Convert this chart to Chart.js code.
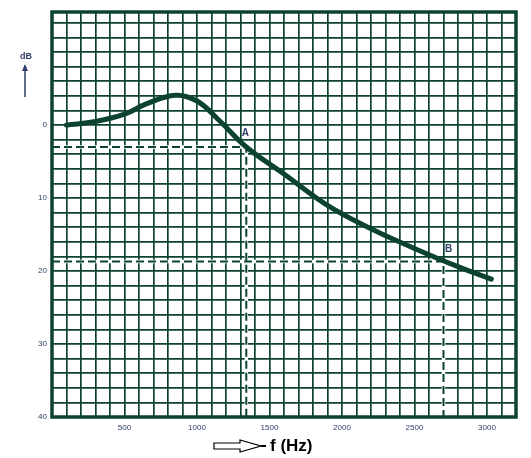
<!DOCTYPE html>
<html>
<head>
<meta charset="utf-8">
<title>dB vs f (Hz)</title>
<script src="https://cdn.jsdelivr.net/npm/chart.js@4.4.1/dist/chart.umd.min.js"></script>
<style>
  html, body { margin: 0; padding: 0; background: #fff; }
  canvas { display: block; }
</style>
</head>
<body>
<canvas id="responseChart" width="531" height="458"></canvas>
<script>
// frequency response (Hz, dB attenuation)
const freqHz = [100, 300, 500, 650, 850, 1000, 1150, 1340, 1600, 1900, 2200, 2500, 2800, 3030];
const levelDb = [0, -0.5, -1.5, -2.9, -4.1, -3.3, -0.7, 3.0, 6.7, 11.0, 14.2, 16.9, 19.4, 21.1];

// marked points A and B
const markNames = ["A", "B"];
const markFreq = [1340, 2700];
const markDb = [3, 18.7];

// axes
const xMin = 0, xMax = 3200;
const yMin = -15.5, yMax = 40;
const xGridStep = 100, yGridStep = 2;
const xTickLabels = [500, 1000, 1500, 2000, 2500, 3000];
const yTickLabels = [0, 10, 20, 30, 40];

const ink = "#0c4330";
const labelInk = "#2c3d66";

function gridValues(from, to, step) {
    const out = [];
    for (let v = from; v <= to + 1e-9; v += step) out.push({ value: v });
    return out;
}

const curve = freqHz.map((f, i) => ({ x: f, y: levelDb[i] }));

const markerSets = [];
markNames.forEach((name, i) => {
    const path = [
        { x: xMin, y: markDb[i] },
        { x: markFreq[i], y: markDb[i] },
        { x: markFreq[i], y: yMax }
    ];
    markerSets.push({ label: name + "-bg", data: path, borderColor: "#ffffff", borderWidth: 3.5,
        pointRadius: 0, tension: 0, order: 3 });
    markerSets.push({ label: name, data: path, borderColor: ink, borderWidth: 2, borderDash: [8, 4],
        pointRadius: 0, tension: 0, order: 2 });
});

// frame, marker letters, axis captions
const decorations = {
    id: "decorations",
    afterDatasetsDraw(chart) {
        const { ctx, chartArea: a, scales: { x, y } } = chart;
        ctx.save();
        ctx.strokeStyle = ink;
        ctx.lineWidth = 3.5;
        ctx.strokeRect(a.left, a.top, a.right - a.left, a.bottom - a.top);

        ctx.fillStyle = labelInk;
        ctx.font = "bold 10px 'Liberation Sans', Arial, sans-serif";
        ctx.textAlign = "center";
        ctx.textBaseline = "middle";
        const offs = [[-1, -14], [5, -12]];
        markNames.forEach((name, i) => {
            ctx.fillText(name, x.getPixelForValue(markFreq[i]) + offs[i][0],
                y.getPixelForValue(markDb[i]) + offs[i][1]);
        });

        // dB caption with up arrow
        ctx.font = "bold 9px 'Liberation Sans', Arial, sans-serif";
        ctx.fillText("dB", 26, 57);
        ctx.strokeStyle = labelInk;
        ctx.lineWidth = 1.5;
        ctx.beginPath();
        ctx.moveTo(25, 97);
        ctx.lineTo(25, 68);
        ctx.stroke();
        ctx.beginPath();
        ctx.moveTo(25, 64);
        ctx.lineTo(22, 71);
        ctx.lineTo(28, 71);
        ctx.closePath();
        ctx.fill();

        // f (Hz) caption with hollow arrow
        ctx.strokeStyle = "#000";
        ctx.lineWidth = 1.2;
        ctx.beginPath();
        ctx.moveTo(214, 443);
        ctx.lineTo(240, 443);
        ctx.lineTo(240, 440);
        ctx.lineTo(261, 446);
        ctx.lineTo(240, 452);
        ctx.lineTo(240, 449);
        ctx.lineTo(214, 449);
        ctx.closePath();
        ctx.stroke();
        ctx.lineWidth = 2;
        ctx.beginPath();
        ctx.moveTo(261, 446);
        ctx.lineTo(266, 446);
        ctx.stroke();

        ctx.fillStyle = "#000";
        ctx.font = "bold 17px 'Liberation Sans', Arial, sans-serif";
        ctx.textAlign = "left";
        ctx.fillText("f (Hz)", 270, 446);
        ctx.restore();
    }
};

new Chart(document.getElementById("responseChart"), {
    type: "line",
    data: {
        datasets: [
            { label: "response", data: curve, borderColor: ink, borderWidth: 5,
              pointRadius: 0, tension: 0.4, borderCapStyle: "round", order: 1 },
            ...markerSets
        ]
    },
    options: {
        responsive: false,
        animation: false,
        devicePixelRatio: 1,
        layout: { padding: { top: 12, right: 15, left: 0, bottom: 0 } },
        plugins: { legend: { display: false }, tooltip: { enabled: false } },
        scales: {
            x: {
                type: "linear",
                min: xMin,
                max: xMax,
                afterBuildTicks: (s) => { s.ticks = gridValues(xMin, xMax, xGridStep); },
                afterFit: (s) => { s.height = 41; },
                grid: { color: ink, lineWidth: 1.7, drawTicks: false },
                border: { display: false },
                ticks: {
                    padding: 6,
                    autoSkip: false,
                    maxRotation: 0,
                    color: labelInk,
                    font: { size: 8, family: "'Liberation Sans', Arial, sans-serif" },
                    callback: (v) => xTickLabels.includes(v) ? String(v) : ""
                }
            },
            y: {
                type: "linear",
                reverse: true,
                min: yMin,
                max: yMax,
                afterBuildTicks: (s) => { s.ticks = gridValues(-14, yMax, yGridStep); },
                afterFit: (s) => { s.width = 52; },
                grid: { color: ink, lineWidth: 1.7, drawTicks: false },
                border: { display: false },
                ticks: {
                    padding: 5,
                    autoSkip: false,
                    color: labelInk,
                    font: { size: 8, family: "'Liberation Sans', Arial, sans-serif" },
                    callback: (v) => yTickLabels.includes(v) ? String(v) : ""
                }
            }
        }
    },
    plugins: [decorations]
});
</script>
</body>
</html>
